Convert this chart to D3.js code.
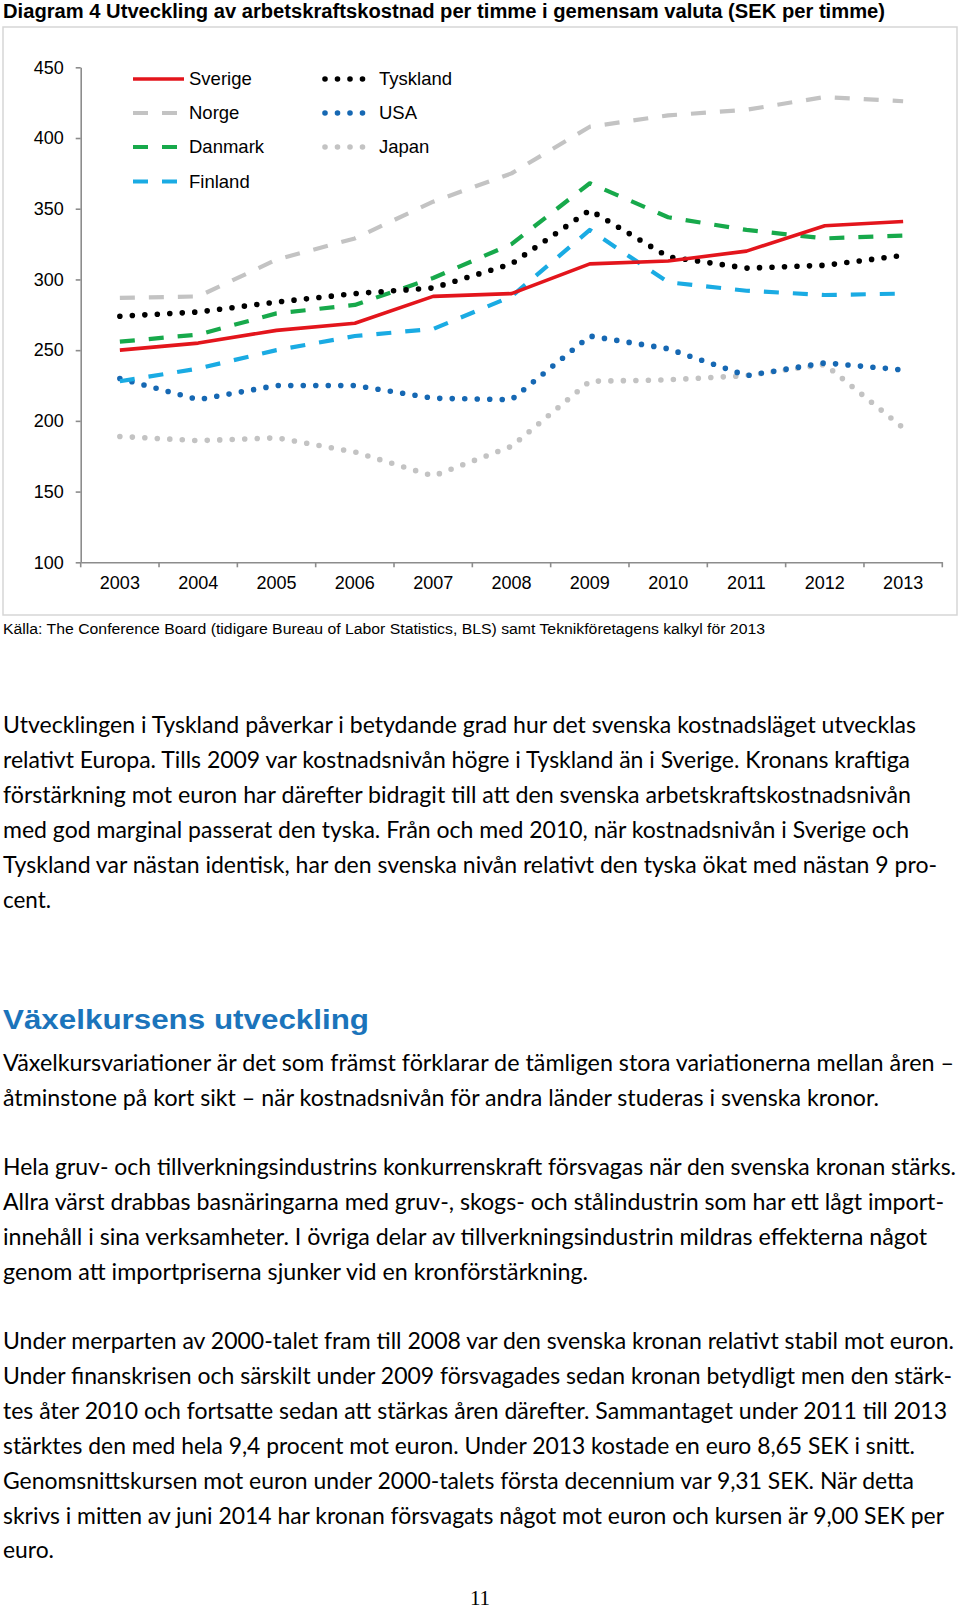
<!DOCTYPE html>
<html><head><meta charset="utf-8">
<script src="https://cdn.jsdelivr.net/npm/d3@7"></script>
<style>
html,body{margin:0;padding:0;background:#fff;}
svg{display:block;}
</style></head>
<body>
<svg id="page" width="960" height="1612"></svg>
<script>
// ---------- DATA ----------
const years = ["2003","2004","2005","2006","2007","2008","2009","2010","2011","2012","2013"];
const yTicks = [100,150,200,250,300,350,400,450];
const sverige   = [250,255,264,269,288,290,311,313,320,338,341];
const norge     = [287,288,314,329,355,375,408,416,420,429,426];
const danmark   = [256,261,276,282,301,325,368,344,335,329,331];
const finland   = [228,237,250,260,265,288,335,298,292,289,290];
const tyskland  = [274,277,284,290,294,311,349,316,308,310,317];
const usa       = [230,215,225,225,216,215,260,251,232,241,236];
const japan     = [189,186,188,178,161,182,228,229,232,240,195];
const seriesNames = ["Sverige","Norge","Danmark","Finland","Tyskland","USA","Japan"];

const title = "Diagram 4 Utveckling av arbetskraftskostnad per timme i gemensam valuta (SEK per timme)";
const source = "Källa: The Conference Board (tidigare Bureau of Labor Statistics, BLS) samt Teknikföretagens kalkyl för 2013";
const para1 = [
 "Utvecklingen i Tyskland påverkar i betydande grad hur det svenska kostnadsläget utvecklas",
 "relativt Europa. Tills 2009 var kostnadsnivån högre i Tyskland än i Sverige. Kronans kraftiga",
 "förstärkning mot euron har därefter bidragit till att den svenska arbetskraftskostnadsnivån",
 "med god marginal passerat den tyska. Från och med 2010, när kostnadsnivån i Sverige och",
 "Tyskland var nästan identisk, har den svenska nivån relativt den tyska ökat med nästan 9 pro-",
 "cent."];
const heading = "Växelkursens utveckling";
const para2 = [
 "Växelkursvariationer är det som främst förklarar de tämligen stora variationerna mellan åren –",
 "åtminstone på kort sikt – när kostnadsnivån för andra länder studeras i svenska kronor."];
const para3 = [
 "Hela gruv- och tillverkningsindustrins konkurrenskraft försvagas när den svenska kronan stärks.",
 "Allra värst drabbas basnäringarna med gruv-, skogs- och stålindustrin som har ett lågt import-",
 "innehåll i sina verksamheter. I övriga delar av tillverkningsindustrin mildras effekterna något",
 "genom att importpriserna sjunker vid en kronförstärkning."];
const para4 = [
 "Under merparten av 2000-talet fram till 2008 var den svenska kronan relativt stabil mot euron.",
 "Under finanskrisen och särskilt under 2009 försvagades sedan kronan betydligt men den stärk-",
 "tes åter 2010 och fortsatte sedan att stärkas åren därefter. Sammantaget under 2011 till 2013",
 "stärktes den med hela 9,4 procent mot euron. Under 2013 kostade en euro 8,65 SEK i snitt.",
 "Genomsnittskursen mot euron under 2000-talets första decennium var 9,31 SEK. När detta",
 "skrivs i mitten av juni 2014 har kronan försvagats något mot euron och kursen är 9,00 SEK per",
 "euro."];
const pageNumber = "11";

// ---------- STYLES ----------
const values = [sverige,norge,danmark,finland,tyskland,usa,japan];
const colors = ["#e3151c","#c3c3c3","#17a94b","#1aabe3","#000000","#1668b3","#c3c3c3"];
const kinds  = ["solid","dash","dash","dash","dot","dot","dot"];
const series = seriesNames.map((n,i)=>({name:n, values:values[i], color:colors[i], kind:kinds[i]}));

function styleLine(sel, kind){
  if(kind==="solid"){ sel.attr("stroke-width",3.6).attr("stroke-linecap","butt"); }
  else if(kind==="dash"){ sel.attr("stroke-width",4.2).attr("stroke-dasharray","15,14").attr("stroke-linecap","butt"); }
  else { sel.attr("stroke-width",5.6).attr("stroke-dasharray","0,12.5").attr("stroke-linecap","round"); }
}

const svg = d3.select("#page");
const fontChart = "'Liberation Sans', Arial, sans-serif";
const fontNarrow = "'Liberation Sans Narrow', 'Liberation Sans', Arial, sans-serif";
const fontBody = "Lato, 'Open Sans', sans-serif";

// Title
svg.append("text").attr("x",3).attr("y",17.5).text(title)
  .attr("font-family",fontNarrow).attr("font-weight","bold").attr("font-size",20)
  .attr("fill","#000").attr("textLength",882).attr("lengthAdjust","spacingAndGlyphs");

// Frame
svg.append("rect").attr("x",3).attr("y",27).attr("width",954).attr("height",588)
  .attr("fill","none").attr("stroke","#d6d6d6").attr("stroke-width",1.5);

// Scales
const x = d3.scaleBand().domain(years).range([80.7,942.3]);
const y = d3.scaleLinear().domain([100,450]).range([562.3,67.3]);
const cx = d => x(d) + x.bandwidth()/2;

// Y axis
const gy = svg.append("g").attr("transform","translate(80.7,0)")
  .call(d3.axisLeft(y).tickValues(yTicks).tickSize(5).tickPadding(12).tickSizeOuter(0));
gy.select(".domain").attr("stroke","#8c8c8c").attr("stroke-width",1.6);
gy.selectAll(".tick line").attr("stroke","#8c8c8c").attr("stroke-width",1.6);
gy.selectAll(".tick text").attr("font-family",fontChart).attr("font-size",18).attr("fill","#000");

// X axis
const gx = svg.append("g").attr("transform","translate(0,562.3)")
  .call(d3.axisBottom(x).tickSize(0).tickPadding(14).tickSizeOuter(0));
gx.select(".domain").attr("stroke","#8c8c8c").attr("stroke-width",1.6);
gx.selectAll(".tick text").attr("font-family",fontChart).attr("font-size",18).attr("fill","#000");
const bounds = years.map(d=>x(d)).concat([x.range()[1]]);
gx.selectAll("line.bt").data(bounds).enter().append("line").attr("class","bt")
  .attr("x1",d=>d).attr("x2",d=>d).attr("y1",0).attr("y2",5)
  .attr("stroke","#8c8c8c").attr("stroke-width",1.6);

// Lines
const line = d3.line().x((d,i)=>cx(years[i])).y(d=>y(d));
const drawOrder = [6,5,1,3,2,4,0];
drawOrder.forEach(i=>{
  const s = series[i];
  const p = svg.append("path").datum(s.values).attr("d",line)
    .attr("fill","none").attr("stroke",s.color).attr("stroke-linejoin","round");
  styleLine(p, s.kind);
});

// Legend
const legendPos = [
  {x1:133,x2:184,tx:189,y:79},{x1:133,x2:184,tx:189,y:113},{x1:133,x2:184,tx:189,y:147},{x1:133,x2:184,tx:189,y:181.5},
  {x1:325,x2:363,tx:379,y:79},{x1:325,x2:363,tx:379,y:113},{x1:325,x2:363,tx:379,y:147}];
const lg = svg.append("g");
series.forEach((s,i)=>{
  const p = legendPos[i];
  const l = lg.append("line").attr("x1",p.x1).attr("x2",p.x2).attr("y1",p.y).attr("y2",p.y).attr("stroke",s.color);
  styleLine(l, s.kind);
  lg.append("text").attr("x",p.tx).attr("y",p.y).attr("dy","0.35em").text(s.name)
    .attr("font-family",fontChart).attr("font-size",18.5).attr("fill","#000");
});

// Source
svg.append("text").attr("x",3).attr("y",634).text(source)
  .attr("font-family",fontNarrow).attr("font-size",15.5).attr("fill","#000")
  .attr("textLength",762).attr("lengthAdjust","spacingAndGlyphs");

// Body text
function para(lines, y0, widths){
  lines.forEach((t,i)=>{
    const tx = svg.append("text").attr("x",3).attr("y",y0+i*34.9).text(t)
      .attr("font-family",fontBody).attr("font-size",23).attr("fill","#000");
    if(widths && widths[i]) tx.attr("textLength",widths[i]).attr("lengthAdjust","spacingAndGlyphs");
  });
}
para(para1, 733.3, [913,907,908,906,934,48]);
svg.append("text").attr("x",3).attr("y",1028.5).text(heading)
  .attr("font-family",fontChart).attr("font-weight","bold").attr("font-size",28.5).attr("fill","#1b74bb")
  .attr("textLength",366).attr("lengthAdjust","spacingAndGlyphs");
para(para2, 1071, [951,876]);
para(para3, 1175, [953,941,924,585]);
para(para4, 1349, [951,949,944,912,911,941,51]);

svg.append("text").attr("x",480).attr("y",1605).attr("text-anchor","middle").text(pageNumber)
  .attr("font-family","'Liberation Serif', 'DejaVu Serif', serif").attr("font-size",21).attr("fill","#000");
</script>
</body></html>
